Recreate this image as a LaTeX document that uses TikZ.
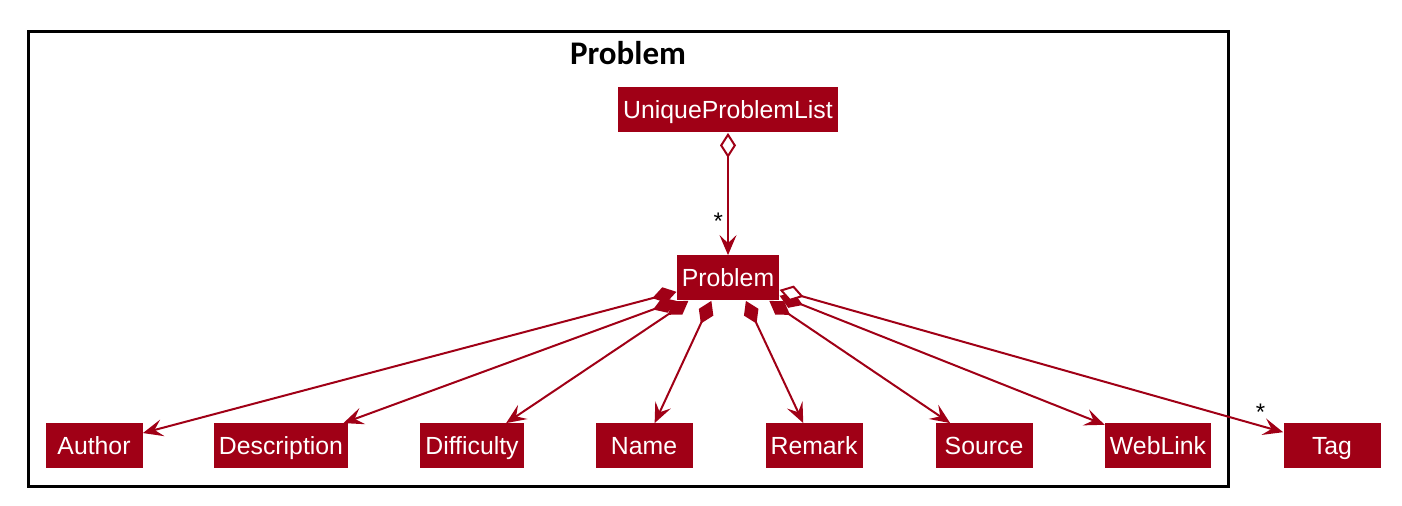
\documentclass[tikz,border=0pt]{standalone}
\usepackage{fontspec}
\setmainfont{Liberation Sans}
\newfontfamily\titlefont{Carlito}
\usetikzlibrary{arrows.meta}
\definecolor{umlred}{RGB}{160,0,22}

\begin{document}
\begin{tikzpicture}[x=0.5pt,y=-0.5pt,>={Stealth[length=10pt,width=8.5pt,inset=4pt]}]
    \tikzstyle{class}=[fill=umlred,text=white,font=\fontsize{12.4}{14}\selectfont,minimum height=22.5pt,minimum width=48.5pt,inner xsep=2.5pt,text height=8.9pt,text depth=0pt]
    \tikzstyle{link}=[draw=umlred,line width=1pt]
    \tikzstyle{comp}=[link,{Diamond[length=12.5pt,width=8pt,fill=umlred]}->]
    \tikzstyle{agg}=[link,{Diamond[length=12.5pt,width=8pt,open,fill=white]}->]
    \tikzstyle{mult}=[font=\fontsize{12}{14}\selectfont,inner sep=2pt]

    \useasboundingbox (0,0) rectangle (1402,506);

    % package frame
    \node[draw,line width=1.5pt,minimum width=600pt,minimum height=227.5pt,inner sep=0pt] (pkg) at (628,259.5) {};
    \node[font=\titlefont\bfseries\fontsize{16.5}{18}\selectfont] (title) at (628,53) {Problem};

    \node[class] (upl) at (728,110) {UniqueProblemList};
    \node[class] (P) at (728,278) {Problem};

    \node[class] (author) at (94,446) {Author};
    \node[class] (desc) at (281,446) {Description};
    \node[class] (diff) at (472,446) {Difficulty};
    \node[class] (name) at (644,446) {Name};
    \node[class] (remark) at (814,446) {Remark};
    \node[class] (source) at (984,446) {Source};
    \node[class] (web) at (1158,446) {WebLink};
    \node[class] (tag) at (1332,446) {Tag};

    \draw[agg] (upl) -- (P) node[mult,pos=.72,left]{*};

    \draw[comp] (P.195) -- (author);
    \draw[comp] (P.204) -- (desc);
    \draw[comp] (P.210) -- (diff);
    \draw[comp] (P.234) -- (name);
    \draw[comp] (P.308) -- (remark);
    \draw[comp] (P.331) -- (source);
    \draw[comp] (P.341) -- (web);
    \draw[agg] (P.347) -- (tag) node[mult,pos=.955,above]{*};
\end{tikzpicture}
\end{document}
